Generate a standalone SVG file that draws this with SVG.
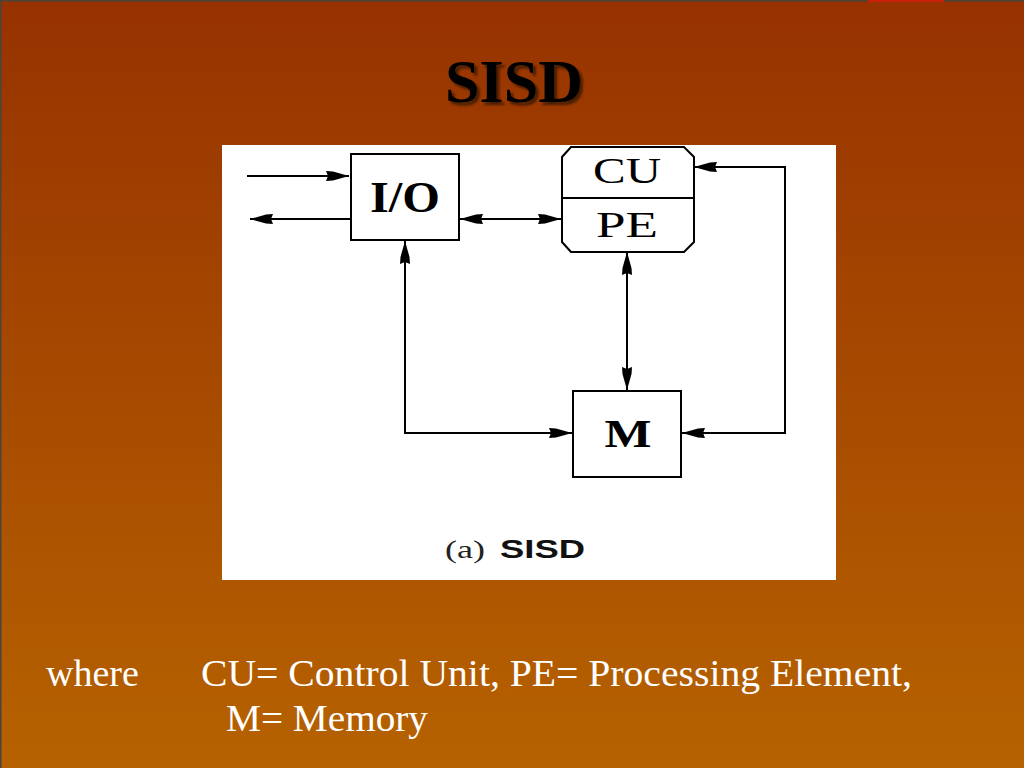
<svg xmlns="http://www.w3.org/2000/svg" width="1024" height="768" viewBox="0 0 1024 768">
<defs>
<linearGradient id="bg" x1="0" y1="0" x2="0" y2="1">
<stop offset="0" stop-color="#973200"/>
<stop offset="1" stop-color="#b66200"/>
</linearGradient>
<filter id="shadow" x="-10%" y="-10%" width="130%" height="140%">
<feDropShadow dx="3" dy="3" stdDeviation="1" flood-color="#3a1200" flood-opacity="0.85"/>
</filter>
<marker id="ah" viewBox="0 0 24 12" refX="24" refY="6" markerWidth="24" markerHeight="12" markerUnits="userSpaceOnUse" orient="auto-start-reverse">
<path d="M1,1 L8,1.5 L24,6 L8,10.5 L1,11 L3,6 Z" fill="#000"/>
</marker>
</defs>
<style>
.box{fill:#fff;stroke:#000;stroke-width:2}
.ln{fill:none;stroke:#000;stroke-width:2}
.lbl{font-family:"Liberation Serif",serif;fill:#000;text-anchor:middle}
.note{font-family:"Liberation Serif",serif;fill:#fff;font-size:38px}
</style>
<rect width="1024" height="768" fill="url(#bg)"/>
<rect x="0" y="0" width="1024" height="1.5" fill="#4a4538"/>
<rect x="0" y="0" width="1.5" height="768" fill="#4a4538"/>
<rect x="868" y="0" width="76" height="2" fill="#c8200a"/>
<g id="title">
<text x="514" y="102" font-family="Liberation Serif,serif" font-weight="bold" font-size="62" text-anchor="middle" fill="#000" filter="url(#shadow)">SISD</text>
</g>
<rect id="panel" x="222" y="145" width="614" height="435" fill="#fff"/>
<g id="connectors">
<path class="ln" d="M247,176 L349,176" marker-end="url(#ah)"/>
<path class="ln" d="M351,219 L250,219" marker-end="url(#ah)"/>
<path class="ln" d="M460,219 L561,219" marker-start="url(#ah)" marker-end="url(#ah)"/>
<path class="ln" d="M627,252 L627,390" marker-start="url(#ah)" marker-end="url(#ah)"/>
<path class="ln" d="M405,241 L405,433 L572,433" marker-start="url(#ah)" marker-end="url(#ah)"/>
<path class="ln" d="M682,433 L785,433 L785,167 L694,167" marker-start="url(#ah)" marker-end="url(#ah)"/>
</g>
<g id="io">
<rect class="box" x="351" y="154" width="108" height="86"/>
<text class="lbl" x="405" y="212" font-size="44" font-weight="bold" textLength="70" lengthAdjust="spacingAndGlyphs">I/O</text>
</g>
<g id="cupe">
<polygon class="box" points="571,147 684,147 694,157 694,242 684,252 571,252 562,242 562,157"/>
<line class="ln" x1="562" y1="198" x2="694" y2="198"/>
<text class="lbl" x="627" y="183" font-size="36" textLength="68" lengthAdjust="spacingAndGlyphs">CU</text>
<text class="lbl" x="627" y="237" font-size="36" textLength="62" lengthAdjust="spacingAndGlyphs">PE</text>
</g>
<g id="mem">
<rect class="box" x="573" y="391" width="108" height="86"/>
<text class="lbl" x="628" y="447" font-size="40" font-weight="bold" textLength="47" lengthAdjust="spacingAndGlyphs">M</text>
</g>
<g id="caption">
<text x="445" y="558" font-family="Liberation Serif,serif" font-size="26" fill="#222" textLength="40" lengthAdjust="spacingAndGlyphs">(a)</text>
<text x="500" y="558" font-family="Liberation Sans,sans-serif" font-size="25" font-weight="bold" fill="#111" textLength="85" lengthAdjust="spacingAndGlyphs">SISD</text>
</g>
<g id="legend">
<text class="note" x="46" y="686">where</text>
<text class="note" x="201" y="686" textLength="711" lengthAdjust="spacingAndGlyphs">CU= Control Unit, PE= Processing Element,</text>
<text class="note" x="226" y="731" textLength="202" lengthAdjust="spacingAndGlyphs">M= Memory</text>
</g>
</svg>
